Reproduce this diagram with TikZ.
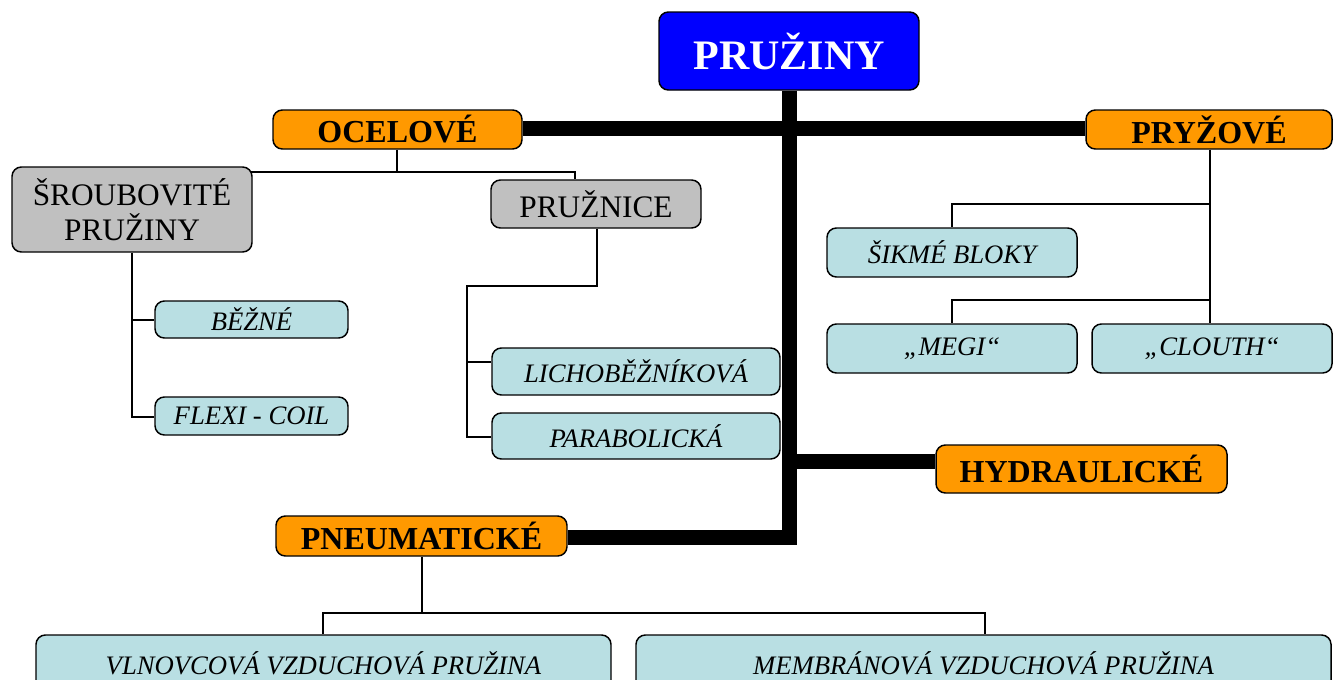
\documentclass[tikz,border=0pt]{standalone}
\usepackage{fontspec}
\setmainfont{Liberation Serif}
\pgfdeclarelayer{bg}
\pgfsetlayers{bg,main}
\definecolor{topblue}{RGB}{0,0,255}
\definecolor{orng}{RGB}{255,153,0}
\definecolor{grayfill}{RGB}{192,192,192}
\definecolor{cyanfill}{RGB}{185,223,227}
\begin{document}
\begin{tikzpicture}[x=0.75pt,y=-0.75pt,
  base/.style={draw=black, line width=1.1pt, rounded corners=7pt, inner sep=0pt, align=center},
  sz/.style 2 args={minimum width=#1*0.75pt, minimum height=#2*0.75pt},
  topbox/.style={base, fill=topblue, text=white, font=\fontsize{31.5}{34}\selectfont\bfseries},
  orbox/.style={base, fill=orng, font=\fontsize{24}{26}\selectfont\bfseries},
  grbox/.style={base, fill=grayfill, font=\fontsize{23.5}{26.25}\selectfont},
  cybox/.style={base, fill=cyanfill, font=\fontsize{20}{22}\selectfont\itshape},
  thick conn/.style={line width=11.25pt, line join=miter},
  thin conn/.style={line width=1.5pt}]
\useasboundingbox (0,0) rectangle (1333,679);
\clip (0,0) rectangle (1333,679);

\node[topbox, sz={260}{78}] (top) at (789,51) {PRUŽINY};
\node[orbox, sz={249}{39}] (ocel) at (397.5,129.5) {OCELOVÉ};
\node[orbox, sz={246}{39}] (pryz) at (1209,129.5) {PRYŽOVÉ};
\node[orbox, sz={291}{48}] (hydr) at (1081.5,469) {HYDRAULICKÉ};
\node[orbox, sz={291}{40}] (pneu) at (421.5,536) {PNEUMATICKÉ};

\node[grbox, sz={240}{85}] (srou) at (132,209.5) {ŠROUBOVITÉ\\PRUŽINY};
\node[grbox, sz={210}{48}] (pruznice) at (596,204) {PRUŽNICE};

\node[cybox, sz={193}{37}] (bezne) at (251.5,319.5) {BĚŽNÉ};
\node[cybox, sz={193}{38}] (flexi) at (251.5,416) {FLEXI - COIL};
\node[cybox, sz={288}{47}] (licho) at (636,371.5) {LICHOBĚŽNÍKOVÁ};
\node[cybox, sz={288}{46}] (parab) at (636,436) {PARABOLICKÁ};

\node[cybox, sz={250}{49}] (sikme) at (952,252.5) {ŠIKMÉ BLOKY};
\node[cybox, sz={250}{49}] (megi) at (952,348.5) {„MEGI“};
\node[cybox, sz={240}{49}] (clouth) at (1212,348.5) {„CLOUTH“};

\node[cybox, sz={575}{56}] (vln) at (323.5,663) {VLNOVCOVÁ VZDUCHOVÁ PRUŽINA};
\node[cybox, sz={695}{56}] (memb) at (983.5,663) {MEMBRÁNOVÁ VZDUCHOVÁ PRUŽINA};

\begin{pgfonlayer}{bg}
  % thick trunk
  \draw[thick conn] (top.south -| 789.5,0) -- (789.5,537.5) -- (pneu.east |- 0,537.5);
  \draw[thick conn] (ocel.east |- 0,128.5) -- (pryz.west |- 0,128.5);
  \draw[thick conn] (789.5,461.5) -- (hydr.west |- 0,461.5);
  % ocelove
  \draw[thin conn] (ocel.south -| 397,0) -- (397,172);
  \draw[thin conn] (246,172) -- (575,172) -- (575,0 |- pruznice.north);
  % sroubovite
  \draw[thin conn] (srou.south) -- (132,417) -- (flexi.west |- 0,417);
  \draw[thin conn] (132,320) -- (bezne.west |- 0,320);
  % pruznice
  \draw[thin conn] (pruznice.south -| 597,0) -- (597,286) -- (467,286) -- (467,437) -- (parab.west |- 0,437);
  \draw[thin conn] (467,362) -- (licho.west |- 0,362);
  % pryzove
  \draw[thin conn] (pryz.south -| 1210,0) -- (1210,0 |- clouth.north);
  \draw[thin conn] (1210,204) -- (952,204) -- (sikme.north);
  \draw[thin conn] (1210,300) -- (952,300) -- (megi.north);
  % pneumaticke
  \draw[thin conn] (pneu.south -| 422,0) -- (422,613);
  \draw[thin conn] (323,0 |- vln.north) -- (323,613) -- (985,613) -- (985,0 |- memb.north);
\end{pgfonlayer}
\end{tikzpicture}
\end{document}
